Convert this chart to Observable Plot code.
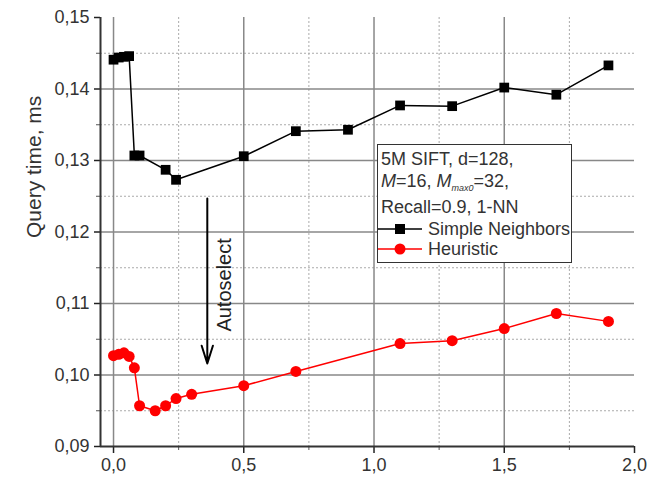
<!DOCTYPE html>
<html>
<head>
<meta charset="utf-8">
<script src="https://cdn.jsdelivr.net/npm/d3@7"></script>
<script src="https://cdn.jsdelivr.net/npm/@observablehq/plot@0.6"></script>
<style>
  html, body { margin: 0; padding: 0; background: #fff; }
  #wrap { position: relative; width: 654px; height: 481px; font-family: "Liberation Sans", Arial, sans-serif; }
  #legend { position: absolute; left: 377px; top: 144px; width: 193px; height: 117px; border: 1.5px solid #333; background: #fff; color: #333; font-size: 18px; box-sizing: content-box; }
  #legend .row { white-space: nowrap; padding-left: 3px; position: absolute; left: 0; line-height: 20px; }
  #legend .sw { display: flex; align-items: center; padding-left: 0; height: 20px; }
  #legend svg { margin-right: 6px; }
  sub { font-size: 9px; font-style: italic; vertical-align: -4px; line-height: 0; }
</style>
</head>
<body>
<div id="wrap"></div>
<script>
// Series data
const xSimple = [0.0, 0.02, 0.04, 0.06, 0.08, 0.10, 0.20, 0.24, 0.5, 0.7, 0.9, 1.1, 1.3, 1.5, 1.7, 1.9];
const ySimple = [0.1441, 0.1444, 0.1445, 0.1446, 0.1307, 0.1307, 0.1287, 0.1273, 0.1306, 0.1341, 0.1343, 0.1377, 0.1376, 0.1402, 0.1392, 0.1433];
const xHeur = [0.0, 0.02, 0.04, 0.06, 0.08, 0.10, 0.16, 0.20, 0.24, 0.30, 0.5, 0.7, 1.1, 1.3, 1.5, 1.7, 1.9];
const yHeur = [0.1027, 0.1029, 0.1031, 0.1026, 0.1010, 0.0957, 0.0950, 0.0957, 0.0967, 0.0973, 0.0985, 0.1005, 0.1044, 0.1048, 0.1065, 0.1086, 0.1075];
const seriesNames = ["Simple Neighbors", "Heuristic"];
const seriesColors = ["#000000", "#ff0000"];

// Ticks
const xMajor = [0, 0.5, 1.0, 1.5, 2.0];
const xMinor = [0.25, 0.75, 1.25, 1.75];
const yMajor = [0.09, 0.10, 0.11, 0.12, 0.13, 0.14, 0.15];
const yMinor = [0.095, 0.105, 0.115, 0.125, 0.135, 0.145];
const yLabel = "Query time, ms";

// Annotation
const arrowData = [{x: 0.36, y1: 0.1247, y2: 0.1016}];
const arrowLabel = [{x: 0.425, y: 0.1126, text: "Autoselect"}];

const simple = xSimple.map((x, i) => ({x, y: ySimple[i]}));
const heur = xHeur.map((x, i) => ({x, y: yHeur[i]}));
const fmtY = (d) => d.toFixed(2).replace(".", ",");
const fmtX = (d) => d.toFixed(1).replace(".", ",");

const chart = Plot.plot({
  width: 654,
  height: 481,
  marginLeft: 100,
  marginRight: 20,
  marginTop: 17,
  marginBottom: 35,
  style: {fontFamily: "'Liberation Sans', Arial, sans-serif", fontSize: "18px", color: "#333", background: "#fff"},
  x: {domain: [-0.05, 2.0]},
  y: {domain: [0.09, 0.15]},
  marks: [
    Plot.gridX(xMinor, {stroke: "#aaa", strokeOpacity: 1, strokeDasharray: "2,2"}),
    Plot.gridY(yMinor, {stroke: "#aaa", strokeOpacity: 1, strokeDasharray: "2,2"}),
    Plot.gridX(xMajor.filter(d => d < 2), {stroke: "#888", strokeOpacity: 1, strokeWidth: 1.5}),
    Plot.gridY(yMajor.filter(d => d > 0.09 && d < 0.15), {stroke: "#888", strokeOpacity: 1, strokeWidth: 1.5}),
    Plot.axisX(xMajor, {tickFormat: fmtX, tickSize: 7, tickPadding: 5, label: null, fontSize: 18, stroke: "#222", strokeWidth: 1.5}),
    Plot.axisX(xMinor, {tickFormat: null, text: null, tickSize: 4, label: null, stroke: "#555"}),
    Plot.axisY(yMajor, {tickFormat: fmtY, tickSize: 6, tickPadding: 5, fontSize: 18, label: null, stroke: "#222", strokeWidth: 1.5}),
    Plot.axisY(yMinor, {text: null, tickSize: 4, label: null, stroke: "#555"}),
    Plot.text([yLabel], {frameAnchor: "left", dx: -66, dy: 6, rotate: -90, fontSize: 21, fill: "#333", text: d => d}),
    Plot.ruleX([-0.05], {stroke: "#333", strokeWidth: 2}),
    Plot.ruleY([0.09], {stroke: "#333", strokeWidth: 2}),
    Plot.arrow(arrowData, {x1: "x", x2: "x", y1: "y1", y2: "y2", stroke: "#000", strokeWidth: 2, headLength: 14, headAngle: 35}),
    Plot.text(arrowLabel, {x: "x", y: "y", text: "text", rotate: -90, fontSize: 20, fill: "#222"}),
    Plot.line(simple, {x: "x", y: "y", stroke: seriesColors[0], strokeWidth: 1.5}),
    Plot.dot(simple, {x: "x", y: "y", symbol: "square", r: 5.5, fill: seriesColors[0], stroke: null}),
    Plot.line(heur, {x: "x", y: "y", stroke: seriesColors[1], strokeWidth: 1.5}),
    Plot.dot(heur, {x: "x", y: "y", symbol: "circle", r: 5.5, fill: seriesColors[1], stroke: null})
  ]
});
const wrap = document.getElementById("wrap");
wrap.appendChild(chart);

// Legend box (annotation)
const legend = document.createElement("div");
legend.id = "legend";
const sw = (color, shape) => `<svg width="44" height="14"><line x1="0" y1="7" x2="44" y2="7" stroke="${color}" stroke-width="1.5"/>` +
  (shape === "square" ? `<rect x="17" y="2" width="10" height="10" fill="${color}"/>` : `<circle cx="22" cy="7" r="5.5" fill="${color}"/>`) + `</svg>`;
legend.innerHTML =
  `<div class="row" style="top:4px">5M SIFT, d=128,</div>` +
  `<div class="row" style="top:26px"><i>M</i>=16, <i>M</i><sub>max0</sub>=32,</div>` +
  `<div class="row" style="top:52px">Recall=0.9, 1-NN</div>` +
  `<div class="row sw" style="top:74px">${sw(seriesColors[0], "square")}${seriesNames[0]}</div>` +
  `<div class="row sw" style="top:94px">${sw(seriesColors[1], "circle")}${seriesNames[1]}</div>`;
wrap.appendChild(legend);
</script>
</body>
</html>
